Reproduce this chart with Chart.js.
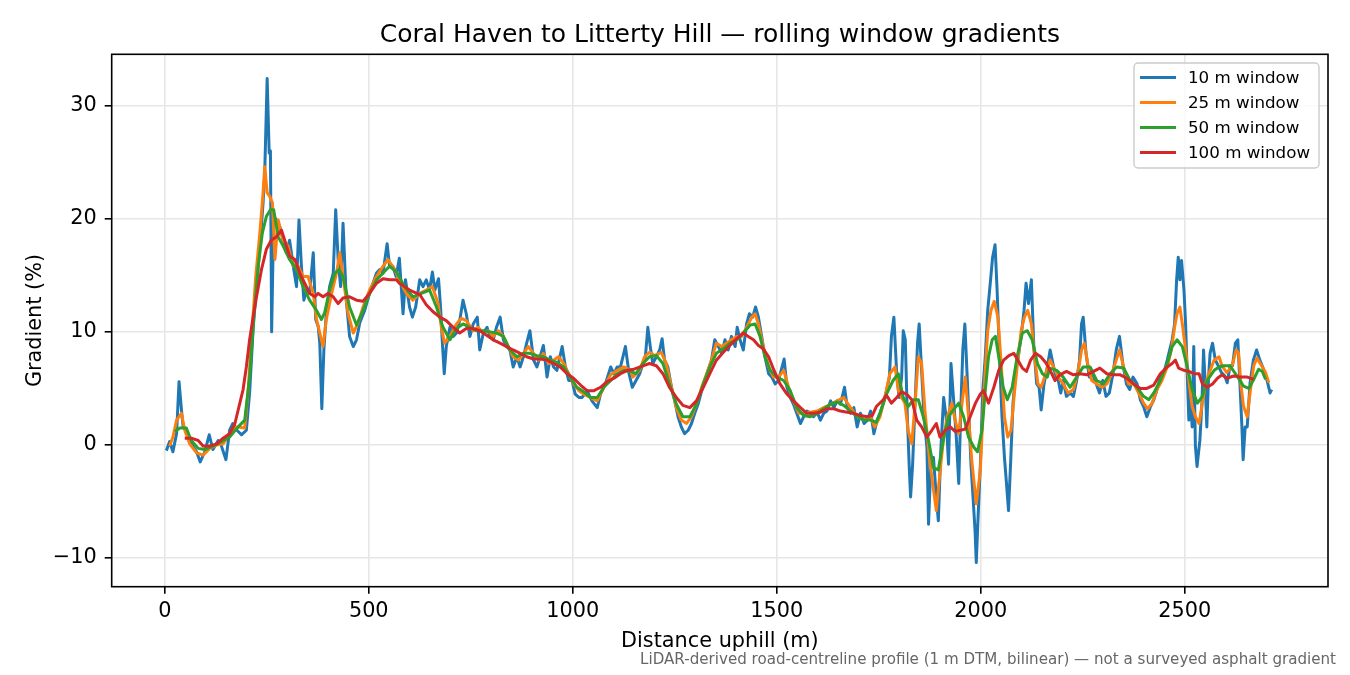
<!DOCTYPE html>
<html>
<head>
<meta charset="utf-8">
<script src="https://cdn.jsdelivr.net/npm/chart.js@4/dist/chart.umd.min.js"></script>
<style>
  html, body { margin: 0; padding: 0; background: #fff; }
  canvas { display: block; }
</style>
</head>
<body>
<canvas id="chart" width="1350" height="675"></canvas>
<script>
// gradient profile (distance in m, gradient in %)

const dist10 = [
  4,12,20,29,35,41,45,53,61,69, 78,87,98,109,118,131,139,150,159,167,
  177,188,200,208,217,225,233,241,245,251, 256,259,262,267,274,282,290,298,306,315,
  323,329,335,341,347,355,364,370,376,380, 385,390,396,404,413,419,425,431,437,445,
  453,462,470,478,490,502,519,527,535,545, 551,559,567,575,584,590,600,607,615,625,
  633,641,649,656,662,671,676,680,685,690, 699,707,715,723,731,739,748,756,766,772,
  781,790,797,805,813,822,830,838,846,854, 863,871,879,887,895,904,912,920,928,937,
  945,953,961,974,982,990,998,1006,1015,1023, 1035,1047,1060,1068,1080,1093,1101,1109,1117,1129,
  1138,1146,1155,1164,1172,1178,1184,1190,1196,1205, 1213,1219,1225,1233,1242,1250,1258,1266,1274,1283,
  1291,1299,1307,1316,1324,1332,1340,1348,1357,1365, 1373,1381,1389,1398,1403,1410,1418,1426,1433,1441,
  1448,1455,1463,1471,1480,1488,1496,1504,1513,1518, 1525,1533,1541,1549,1558,1566,1574,1582,1590,1599,
  1607,1615,1623,1632,1640,1648,1656,1666,1673,1681, 1689,1697,1705,1714,1722,1730,1738,1746,1753,1761,
  1769,1776,1781,1787,1794,1800,1806,1810,1815,1820, 1825,1828,1833,1839,1845,1849,1855,1861,1868,1872,
  1877,1884,1891,1896,1902,1909,1915,1921,1927,1933, 1940,1946,1951,1956,1961,1966,1971,1976,1981,1986,
  1989,1993,1999,2005,2011,2017,2024,2029,2035,2040, 2046,2052,2058,2063,2068,2073,2079,2086,2092,2099,
  2106,2111,2117,2124,2130,2137,2143,2148,2155,2163, 2170,2182,2190,2196,2202,2210,2219,2227,2235,2242,
  2247,2251,2258,2266,2274,2283,2291,2299,2307,2315, 2324,2332,2340,2348,2357,2365,2373,2383,2391,2399,
  2407,2416,2424,2432,2440,2448,2457,2463,2469,2475, 2480,2484,2488,2492,2498,2502,2506,2510,2514,2518,
  2522,2526,2530,2537,2542,2546,2550,2554,2558,2562, 2568,2575,2582,2590,2598,2604,2611,2617,2624,2630,
  2635,2640,2643,2648,2653,2660,2668,2676,2684,2693, 2701,2709,2713
];
const grad10 = [
  -0.5,0.3,-0.6,1.0,5.6,3.1,1.6,1.3,0.4,-0.1, -0.6,-1.5,-0.6,0.9,-0.4,0.4,-0.1,-1.3,1.3,1.9,
  1.3,0.9,1.3,4.6,10.5,14,17.5,21.4,24,32.4, 25.8,26,10,20.2,19.9,19.3,18.1,17,18.1,15.8,
  14,19.9,15.8,12.8,13.7,13.4,17,11.1,10.5,9, 3.2,8.4,11.7,14,15.2,20.8,16.4,14,19.6,12.8,
  9.6,8.7,9.3,10.8,11.9,13.4,15.2,15.5,15.2,17.8, 15.8,15.8,14.9,16.5,11.6,14.6,12.2,11.3,12.2,14.6,
  14.0,14.6,13.7,15.3,13.7,14.7,12.2,9.3,6.3,8.7, 10.4,9.6,9.9,11.0,12.8,11.6,9.6,10.7,11.3,8.4,
  9.9,10.4,9.6,9.3,10.4,11.3,9.3,8.7,8.4,6.9, 7.8,6.9,7.8,9.0,10.1,7.5,6.9,7.8,8.8,6.0,
  7.8,6.9,6.6,8.7,6.9,5.7,5.7,4.5,4.2,4.2, 4.8,3.9,3.3,4.5,5.4,6.9,6.3,6.9,6.9,8.7,
  6.3,5.1,5.7,6.3,7.2,7.8,10.4,8.7,7.2,7.8, 8.4,9.4,7.5,6.9,5.1,3.9,2.5,1.6,1.0,1.3,
  1.9,2.8,3.6,4.8,5.7,6.6,7.5,9.3,8.7,8.1, 9.3,8.4,9.6,8.7,10.4,9.3,8.4,10.7,11.6,11.3,
  12.2,11.3,9.6,7.8,6.3,6.0,5.4,5.7,6.9,7.6, 5.1,4.2,3.6,2.8,1.9,2.5,3.0,2.8,2.5,2.9,
  2.2,2.8,3.0,3.9,3.3,3.9,3.6,5.1,3.3,2.8, 3.3,1.6,2.8,1.9,2.2,3.0,1.0,2.2,2.8,3.7,
  4.8,6.0,9.6,11.3,6.3,4.2,6.0,10.1,9.3,2.5, -2.2,-4.6,-1.7,3.7,9.0,10.7,6.6,2.5,-0.2,-7.0,
  -2.2,-1.1,-4.6,-6.7,-0.5,4.2,2.5,-1.7,7.2,4.2, 0.7,-3.4,3.1,8.4,10.7,6.6,2.5,-1.7,-4.6,-7.6,
  -10.4,-6.7,-1.7,4.8,7.8,11.9,14.6,16.6,17.7,13.7, 7.8,2.5,-1.1,-3.4,-5.8,-1.7,3.7,6.6,7.8,9.6,
  11.9,14.3,12.5,14.6,8.7,5.4,5.1,3.1,5.4,6.9, 8.4,6.3,5.7,4.6,5.7,4.3,4.6,4.3,5.7,7.5,
  10.7,11.3,8.1,6.0,6.3,5.4,4.6,5.7,4.3,4.6, 6.3,8.4,9.6,7.2,5.4,4.9,6.0,5.4,4.0,3.4,
  2.5,3.4,4.0,4.9,6.0,6.3,7.5,8.4,9.3,10.7, 14.6,16.6,14.6,16.3,13.7,10.7,6.3,2.2,4.6,1.6,
  8.7,-0.1,-1.9,0.4,3.7,8.4,5.5,1.6,5.8,8.1, 9.0,7.5,7.0,6.4,6.1,5.5,7.0,7.0,9.0,9.3,
  5.5,1.6,-1.3,1.6,1.6,5.5,7.5,8.4,7.5,6.7, 5.8,4.6,4.9
];

const dist25 = [
  12,20,29,41,49,61,78,94,110,127, 143,159,176,196,204,212,223,233,241,245,
  251,257,264,270,278,290,302,315,327,339, 351,364,372,380,388,396,409,421,429,437,
  449,462,474,486,502,519,535,547,564,575, 592,608,625,641,656,670,678,686,699,715,
  727,739,756,768,781,793,805,818,830,842, 854,867,879,891,904,916,928,941,953,965,
  978,990,1002,1015,1027,1043,1060,1076,1093,1109, 1125,1142,1147,1164,1176,1188,1201,1217,1229,1242,
  1254,1266,1279,1291,1303,1316,1328,1340,1352,1365, 1377,1389,1402,1414,1426,1439,1447,1455,1467,1480,
  1492,1504,1517,1529,1541,1554,1566,1582,1599,1615, 1632,1648,1664,1681,1697,1714,1730,1740,1753,1765,
  1777,1790,1798,1806,1814,1822,1831,1839,1847,1855, 1863,1874,1882,1891,1899,1909,1918,1929,1937,1946,
  1954,1962,1970,1978,1989,1999,2007,2017,2025,2033, 2042,2050,2058,2066,2074,2083,2091,2099,2107,2115,
  2124,2132,2140,2148,2159,2170,2178,2190,2202,2214, 2227,2239,2247,2254,2262,2272,2284,2297,2309,2321,
  2332,2340,2350,2362,2375,2387,2399,2409,2420,2432, 2444,2457,2467,2475,2481,2488,2494,2502,2510,2518,
  2526,2535,2543,2551,2559,2572,2584,2591,2603,2616, 2626,2632,2638,2644,2653,2661,2669,2677,2685,2698,
  2706
];
const grad25 = [
  -0.1,0.7,2.2,2.8,1.3,0.1,-0.7,-0.9,-0.3,0, 0.1,1.0,1.6,1.5,4.6,9,14.9,18.7,22.3,24.6,
  22.3,22,21.4,16.4,19.9,18.1,17.6,15.8,15.8,14.9, 14.9,13.4,11.1,9.9,8.7,11.1,13.4,15.2,17.0,14.9,
  11.7,9.9,10.8,12.2,13.7,14.9,15.8,16.4,15.5,14.6, 13.4,12.8,13.4,13.7,14.0,12.5,10.4,9.0,9.6,10.7,
  11.2,11.0,10.1,10.4,9.9,10.1,9.6,10.1,9.6,8.7, 7.8,7.5,8.1,8.7,8.1,7.5,8.1,7.2,7.5,7.8,
  7.2,6.3,5.4,4.8,4.5,4.2,3.9,5.1,6.2,6.6, 6.9,6.6,6.0,6.6,7.8,8.2,7.9,8.2,7.2,5.1,
  3.3,2.2,1.9,2.5,3.6,5.1,6.3,7.5,9.0,8.7, 9.0,9.3,9.6,9.6,10.4,11.3,11.6,10.7,8.7,6.9,
  6.0,6.0,6.6,5.1,3.9,2.8,2.8,2.9,3.0,3.3, 3.6,3.9,4.2,3.3,2.5,2.2,2.5,1.6,2.5,4.2,
  6.3,6.9,4.8,4.2,3.7,1.3,0.1,3.7,7.8,7.2, 3.1,-1.1,-3.4,-5.8,-2.8,0.7,2.5,3.7,2.2,1.0,
  3.7,6.0,2.5,-1.4,-5.2,-2.2,4.2,10.1,11.9,12.7, 11.3,7.2,2.5,0.7,1.3,4.8,7.5,10.1,11.3,11.9,
  10.7,7.8,5.4,5.1,6.3,7.5,6.9,6.0,5.4,4.6, 4.9,6.6,8.4,9.0,7.2,5.7,5.4,5.1,5.4,6.3,
  7.5,8.4,6.9,5.4,5.4,4.6,3.7,3.2,3.7,4.9, 5.7,6.9,8.4,10.4,11.6,12.2,10.7,8.4,5.7,3.4,
  2.5,1.9,3.7,5.4,6.3,7.5,7.8,7.0,6.4,7.0, 8.4,8.1,5.2,3.4,2.5,4.9,7.0,7.7,7.2,6.4,
  5.5
];

const dist50 = [
  25,37,53,65,82,98,118,139,159,180, 196,208,218,229,239,249,259,267,278,290,
  306,323,339,355,372,384,392,404,417,427, 437,453,470,486,502,519,535,551,568,588,
  608,629,649,666,682,699,715,731,748,764, 781,797,813,830,846,863,879,895,912,928,
  945,961,978,994,1010,1027,1043,1060,1076,1093, 1109,1125,1142,1155,1172,1188,1205,1221,1237,1254,
  1270,1287,1303,1320,1336,1352,1369,1385,1402,1418, 1435,1447,1459,1471,1484,1500,1517,1533,1549,1566,
  1582,1599,1615,1632,1648,1664,1681,1697,1714,1730, 1744,1753,1769,1785,1798,1810,1822,1835,1847,1859,
  1872,1884,1896,1909,1921,1933,1946,1958,1970,1983, 1992,2003,2011,2019,2028,2036,2044,2055,2065,2077,
  2089,2102,2114,2126,2139,2151,2163,2169,2186,2202, 2219,2235,2251,2268,2284,2301,2317,2333,2350,2366,
  2383,2399,2412,2424,2440,2457,2469,2481,2494,2506, 2518,2531,2543,2555,2572,2584,2595,2611,2628,2644,
  2657,2669,2681,2690,2698
];
const grad50 = [
  1.2,1.5,1.5,0.4,-0.3,-0.4,-0.1,0.3,0.7,1.6, 2.2,6.0,11.1,15.8,18.7,20.2,20.8,20.8,18.4,17.6,
  16.4,15.5,14.0,12.8,11.9,11.1,11.7,13.7,15.2,15.5, 14.9,12.2,10.6,11.9,13.4,14.6,15.2,15.8,15.3,14.0,
  13.1,13.4,13.7,12.2,10.4,9.3,10.3,10.7,10.4,10.1, 10.1,10.0,9.9,9.6,8.4,7.8,8.1,8.1,7.9,7.8,
  7.5,7.3,6.9,6.0,5.1,4.7,4.2,4.2,5.1,5.7, 6.3,6.6,6.5,6.3,7.2,7.8,7.9,7.2,5.4,3.6,
  2.5,2.5,3.6,5.4,6.9,8.1,8.5,9.0,9.3,9.9, 10.6,10.7,9.6,7.8,6.6,6.0,5.7,4.8,3.3,2.6,
  2.5,2.8,3.2,3.6,3.8,3.5,3.0,2.5,2.2,2.2, 2.0,2.8,4.5,5.7,6.3,4.2,3.4,4.0,4.0,2.5,
  0.4,-2.0,-2.2,0.6,2.5,3.1,3.7,2.5,0.7,-0.2, -0.6,1.3,4.8,7.8,9.3,9.6,7.8,5.1,4.0,5.1,
  7.8,9.9,10.1,9.3,7.2,6.3,6.0,6.8,6.6,6.0, 5.1,6.0,6.9,6.9,5.7,5.4,6.3,6.9,6.8,5.7,
  5.1,4.3,4.0,4.6,5.7,7.2,8.7,9.3,8.7,6.9, 4.9,3.7,4.3,5.7,6.6,6.9,7.0,7.0,6.1,5.2,
  5.0,5.8,6.7,6.5,5.8
];

const dist100 = [
  49,65,82,94,110,127,143,159,172,184, 192,200,208,217,225,237,249,261,274,286,
  294,306,319,331,343,355,368,376,388,400, 413,425,437,453,470,486,502,519,535,551,
  568,575,600,625,641,657,674,690,707,723, 739,756,772,789,805,822,838,854,871,887,
  904,920,937,953,969,986,1002,1019,1035,1052, 1068,1084,1101,1117,1134,1150,1172,1188,1205,1221,
  1237,1254,1270,1287,1303,1320,1336,1352,1369,1385, 1402,1418,1430,1443,1455,1467,1480,1492,1508,1525,
  1541,1558,1574,1590,1607,1623,1640,1656,1673,1689, 1705,1722,1734,1744,1761,1769,1781,1794,1806,1818,
  1831,1843,1855,1868,1880,1891,1900,1913,1925,1937, 1950,1962,1974,1987,1999,2007,2019,2032,2044,2056,
  2069,2081,2091,2102,2112,2122,2134,2147,2159,2170, 2182,2194,2210,2227,2243,2260,2276,2292,2309,2325,
  2342,2358,2375,2391,2407,2424,2440,2457,2469,2477, 2485,2498,2510,2522,2535,2543,2555,2568,2580,2591,
  2603,2620,2636,2653,2669
];
const grad100 = [
  0.6,0.6,0.4,-0.1,-0.1,0.1,0.6,1.0,1.9,3.7, 4.9,6.9,9.3,11.4,13.1,15.5,17.3,18.1,18.4,19.0,
  18.1,16.7,16.4,15.2,14.3,13.4,13.1,13.4,13.1,13.4, 13.1,12.5,13.0,13.1,12.8,12.7,13.4,14.3,14.7,14.6,
  14.6,14.3,13.7,13.3,12.4,11.8,11.3,11.0,10.4,9.9, 10.3,10.3,10.1,9.7,9.3,9.0,8.7,8.4,8.1,7.8,
  7.6,7.6,7.5,7.2,6.9,6.3,5.9,5.3,4.8,4.8, 5.1,5.6,5.9,6.3,6.6,6.7,7.0,7.2,7.0,6.3,
  5.1,4.2,3.5,3.3,3.9,5.1,6.3,7.5,8.2,8.8, 9.4,9.9,9.6,9.3,8.8,8.5,7.8,6.7,5.4,4.5,
  3.9,3.3,2.8,2.8,2.9,3.2,3.2,3.0,2.9,2.8, 2.6,2.5,2.6,3.4,4.0,4.4,3.7,4.2,4.7,4.5,
  4.0,2.2,1.6,0.7,1.3,1.9,0.7,1.3,1.6,1.2, 1.3,1.4,2.5,3.7,4.5,4.8,3.7,5.1,6.6,7.5,
  7.9,8.1,7.5,6.8,6.5,7.5,8.1,7.8,7.3,6.6, 5.7,6.2,6.5,6.2,6.3,6.2,6.5,6.8,6.3,6.2,
  6.2,5.9,5.4,5.0,5.0,5.3,6.3,6.9,7.2,7.5, 6.8,6.6,6.5,6.3,6.3,5.4,5.1,5.4,5.9,6.2,
  5.9,6.1,6.0,6.0,5.8
];

const labels = ['10 m window', '25 m window', '50 m window', '100 m window'];
const colors = ['#1f77b4', '#ff7f0e', '#2ca02c', '#d62728'];
const xTicks = [0, 500, 1000, 1500, 2000, 2500];
const yTicks = [-10, 0, 10, 20, 30];

const FONT = '"DejaVu Sans", sans-serif';
const pts = (d, g) => d.map((x, i) => ({ x, y: g[i] }));

const series = [[dist10, grad10], [dist25, grad25], [dist50, grad50], [dist100, grad100]];

const datasets = series.map(([d, g], i) => ({
  label: labels[i],
  data: pts(d, g),
  borderColor: colors[i],
  borderWidth: 3,
  borderJoinStyle: 'round',
  pointRadius: 0,
  tension: 0,
  fill: false,
  order: 3 - i,   // red drawn on top, like matplotlib
}));

// title, axis titles, legend, frame, footnote
const decor = {
  id: 'decor',
  beforeDraw(chart) {
    const c = chart.ctx;
    c.save();
    c.fillStyle = '#fff';
    c.fillRect(0, 0, chart.width, chart.height);
    c.restore();
  },
  afterDraw(chart) {
    const c = chart.ctx;
    const a = chart.chartArea;
    const cx = (a.left + a.right) / 2;
    c.save();

    // frame
    c.strokeStyle = '#000';
    c.lineWidth = 1.6;
    c.strokeRect(a.left, a.top, a.right - a.left, a.bottom - a.top);

    c.fillStyle = '#000';
    c.textAlign = 'center';
    c.textBaseline = 'alphabetic';
    c.font = '25px ' + FONT;
    c.fillText('Coral Haven to Litterty Hill \u2014 rolling window gradients', cx, 42);

    c.font = '20.8px ' + FONT;
    c.fillText('Distance uphill (m)', cx, 647);

    c.save();
    c.translate(41, (a.top + a.bottom) / 2);
    c.rotate(-Math.PI / 2);
    c.fillText('Gradient (%)', 0, 0);
    c.restore();

    c.fillStyle = '#666';
    c.textAlign = 'right';
    c.textBaseline = 'middle';
    c.font = '15.1px ' + FONT;
    c.fillText('LiDAR-derived road-centreline profile (1 m DTM, bilinear) \u2014 not a surveyed asphalt gradient', 1336, 660);

    // legend box
    const bx = 1134, by = 63, bw = 185, bh = 105, r = 4;
    c.beginPath();
    c.moveTo(bx + r, by);
    c.arcTo(bx + bw, by, bx + bw, by + bh, r);
    c.arcTo(bx + bw, by + bh, bx, by + bh, r);
    c.arcTo(bx, by + bh, bx, by, r);
    c.arcTo(bx, by, bx + bw, by, r);
    c.closePath();
    c.fillStyle = 'rgba(255,255,255,0.8)';
    c.fill();
    c.strokeStyle = '#cccccc';
    c.lineWidth = 1.4;
    c.stroke();

    c.font = '16.7px ' + FONT;
    c.textAlign = 'left';
    c.textBaseline = 'middle';
    chart.data.datasets.forEach((ds, i) => {
      const y = 77.5 + i * 25;
      c.strokeStyle = ds.borderColor;
      c.lineWidth = 3;
      c.beginPath();
      c.moveTo(1140, y);
      c.lineTo(1176, y);
      c.stroke();
      c.fillStyle = '#000';
      c.fillText(ds.label, 1188, y + 1);
    });
    c.restore();
  },
};

const minusFmt = v => (v < 0 ? '\u2212' + Math.abs(v) : String(v));

new Chart(document.getElementById('chart'), {
  type: 'line',
  data: { datasets },
  plugins: [decor],
  options: {
    responsive: false,
    devicePixelRatio: 1,
    animation: false,
    layout: { padding: { top: 54.3, right: 22, left: 0, bottom: 0 } },
    plugins: { legend: { display: false }, title: { display: false }, tooltip: { enabled: false } },
    scales: {
      x: {
        type: 'linear',
        min: -130,
        max: 2851,
        afterBuildTicks: s => { s.ticks = xTicks.map(v => ({ value: v })); },
        afterFit: s => { s.height = 88.3; },
        ticks: { color: '#000', font: { family: FONT, size: 20.8 }, padding: 5, maxRotation: 0, callback: minusFmt },
        grid: { color: '#e6e6e6', lineWidth: 1.6, tickColor: '#000', tickWidth: 1.6, tickLength: 7 },
        border: { display: false },
      },
      y: {
        min: -12.53,
        max: 34.54,
        afterBuildTicks: s => { s.ticks = yTicks.map(v => ({ value: v })); },
        afterFit: s => { s.width = 111.7; },
        ticks: { color: '#000', font: { family: FONT, size: 20.8 }, padding: 8, callback: minusFmt },
        grid: { color: '#e6e6e6', lineWidth: 1.6, tickColor: '#000', tickWidth: 1.6, tickLength: 7 },
        border: { display: false },
      },
    },
  },
});
</script>
</body>
</html>
